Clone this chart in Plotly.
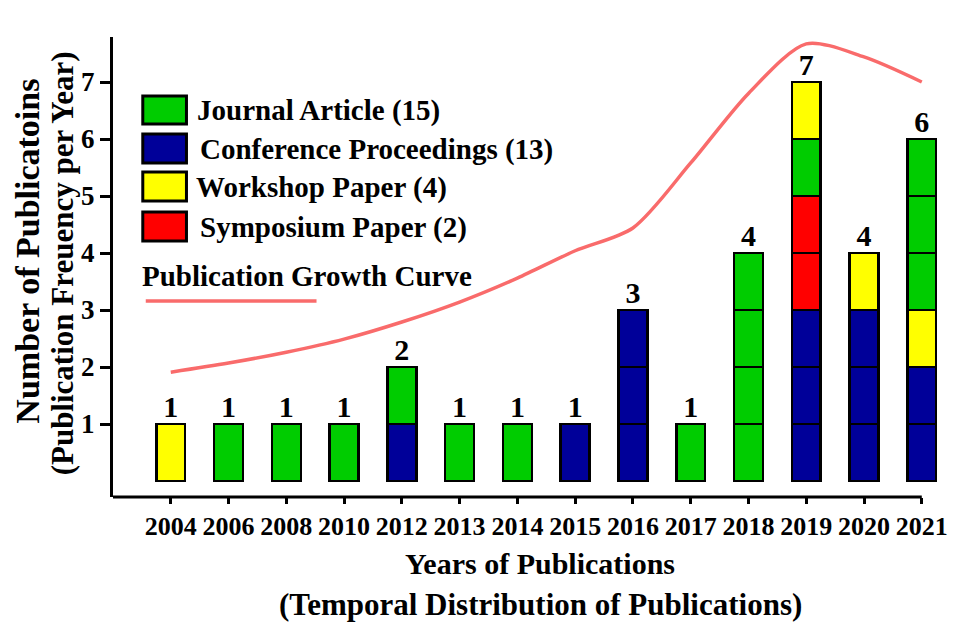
import plotly.graph_objects as go

# ---------------- data ----------------
years = ["2004", "2006", "2008", "2010", "2012", "2013", "2014", "2015",
         "2016", "2017", "2018", "2019", "2020", "2021"]

# publication blocks per year, listed bottom -> top
J, C, W, S = "Journal Article", "Conference Proceedings", "Workshop Paper", "Symposium Paper"
stacks = [
    [W],
    [J],
    [J],
    [J],
    [C, J],
    [J],
    [J],
    [C],
    [C, C, C],
    [J],
    [J, J, J, J],
    [C, C, C, S, S, J, W],
    [C, C, C, W],
    [C, C, W, J, J, J],
]
categories = [J, C, W, S]
cat_colors = {J: "#00cc00", C: "#000099", W: "#ffff00", S: "#ff0000"}

growth_curve = [1.91, 2.07, 2.26, 2.49, 2.79, 3.14, 3.56, 4.04, 4.44, 5.58, 6.8, 7.67, 7.44, 7.0]

y_ticks = [1, 2, 3, 4, 5, 6, 7]

# ---------------- figure ----------------
# page body has an 8px margin, so the canvas is 8px smaller and shifted
OFF = 8
W_PX, H_PX = 957 - OFF, 624 - OFF
ML, MR, MT, MB = 113 - OFF, 9, 37 - OFF, 127
PW, PH = W_PX - ML - MR, H_PX - MT - MB

def px(xp):
    return (xp - OFF - ML) / PW

def py(yp):
    return (H_PX - MB - (yp - OFF)) / PH

FONT = "Liberation Serif"

fig = go.Figure()

totals = [len(s) for s in stacks]
max_level = max(totals)
for lvl in range(max_level):
    xs, ys, cols = [], [], []
    for yr, s in zip(years, stacks):
        if len(s) > lvl:
            xs.append(yr)
            ys.append(1)
            cols.append(cat_colors[s[lvl]])
    fig.add_trace(go.Bar(
        x=xs, y=ys, width=0.5,
        marker=dict(color=cols, line=dict(color="black", width=2.5)),
        showlegend=False, hoverinfo="skip",
    ))

fig.add_trace(go.Scatter(
    x=years, y=growth_curve, mode="lines",
    line=dict(color="#f96b6b", width=3.5, shape="spline", smoothing=0.8),
    showlegend=False, hoverinfo="skip",
))

fig.add_trace(go.Scatter(
    x=years, y=totals, mode="text", text=[str(t) for t in totals],
    textposition="top center",
    textfont=dict(family=FONT, size=30, color="black", weight="bold"),
    cliponaxis=False, showlegend=False, hoverinfo="skip",
))

# ---------------- legend (drawn) ----------------
counts = {c: sum(s.count(c) for s in stacks) for c in categories}
leg_box_y = [(96, 124), (134, 163), (172, 201), (212, 241)]
leg_text_x = [196, 199, 195, 199]
shapes = []
annotations = []
for cat, (y0, y1), tx in zip(categories, leg_box_y, leg_text_x):
    shapes.append(dict(type="rect", xref="paper", yref="paper",
                       x0=px(143), x1=px(187), y0=py(y1), y1=py(y0),
                       fillcolor=cat_colors[cat], line=dict(color="black", width=3)))
    annotations.append(dict(xref="paper", yref="paper", x=px(tx), y=py((y0 + y1) / 2 + 1),
                            xanchor="left", yanchor="middle", showarrow=False,
                            text=f"<b>{cat} ({counts[cat]})</b>",
                            font=dict(family=FONT, size=29, color="black")))
annotations.append(dict(xref="paper", yref="paper", x=px(140), y=py(276),
                        xanchor="left", yanchor="middle", showarrow=False,
                        text="<b>Publication Growth Curve</b>",
                        font=dict(family=FONT, size=29, color="black")))
shapes.append(dict(type="line", xref="paper", yref="paper",
                   x0=px(146), x1=px(318), y0=py(301), y1=py(301),
                   line=dict(color="#f96b6b", width=3.5)))

# x axis line ending at last category
shapes.append(dict(type="line", xref="x", yref="paper", x0=-1, x1=len(years) - 1,
                   y0=0, y1=0, line=dict(color="black", width=3)))

# axis titles
annotations.append(dict(xref="paper", yref="paper", x=px(26), y=py(251),
                        xanchor="center", yanchor="middle", showarrow=False,
                        textangle=-90, text="<b>Number of Publicatoins</b>",
                        font=dict(family=FONT, size=34, color="black")))
annotations.append(dict(xref="paper", yref="paper", x=px(62), y=py(263),
                        xanchor="center", yanchor="middle", showarrow=False,
                        textangle=-90, text="<b>(Publication Freuency per Year)</b>",
                        font=dict(family=FONT, size=31, color="black")))
annotations.append(dict(xref="paper", yref="paper", x=px(543), y=py(563),
                        xanchor="center", yanchor="middle", showarrow=False,
                        text="<b>Years of Publications</b>",
                        font=dict(family=FONT, size=30, color="black")))
annotations.append(dict(xref="paper", yref="paper", x=px(544), y=py(604),
                        xanchor="center", yanchor="middle", showarrow=False,
                        text="<b>(Temporal Distribution of Publications)</b>",
                        font=dict(family=FONT, size=31, color="black")))

fig.update_layout(
    width=W_PX, height=H_PX,
    margin=dict(l=ML, r=MR, t=MT, b=MB),
    barmode="stack", bargap=0.5,
    plot_bgcolor="white", paper_bgcolor="white",
    showlegend=False,
    shapes=shapes, annotations=annotations,
    xaxis=dict(
        type="category", range=[-1, len(years) - 1 + 0.35],
        showline=False, showgrid=False, zeroline=False,
        ticks="outside", ticklen=6, tickwidth=3, tickcolor="black",
        tickfont=dict(family=FONT, size=26, color="black", weight="bold"),
    ),
    yaxis=dict(
        range=[-0.28, 7.79], tickvals=y_ticks,
        showline=True, linecolor="black", linewidth=3,
        showgrid=False, zeroline=False,
        ticks="outside", ticklen=10, tickwidth=3, tickcolor="black",
        tickfont=dict(family=FONT, size=27, color="black", weight="bold"),
    ),
)

fig.write_html("out.html")
